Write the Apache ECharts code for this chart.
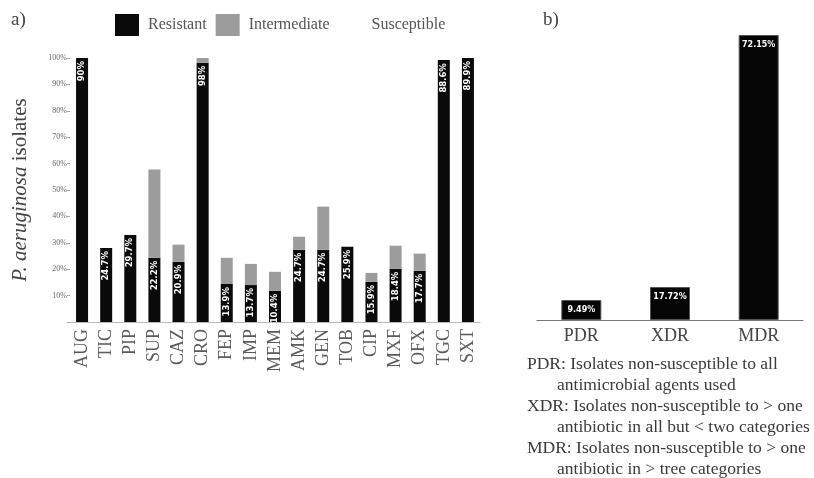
<!DOCTYPE html>
<html><head><meta charset="utf-8">
<script src="https://cdn.jsdelivr.net/npm/echarts@6/dist/echarts.min.js"></script>
<style>html,body{margin:0;padding:0;background:#fff}#c{width:814px;height:478px}</style>
</head><body><div id="c"></div>
<script>
// Panel a data
const drugs = ['AUG','TIC','PIP','SUP','CAZ','CRO','FEP','IMP','MEM','AMK','GEN','TOB','CIP','MXF','OFX','TGC','SXT'];
const resistant =    [100, 28, 33, 24.3, 22.8, 98.2, 14.4, 14, 11.8, 27.4, 27.4, 28.5, 15.2, 20.2, 19.4, 99.2, 100];
const intermediate = [0, 0, 0, 33.5, 6.5, 1.8, 9.9, 8, 7.2, 4.9, 16.3, 0, 3.4, 8.7, 6.5, 0, 0];
const resistantLabels = ['90%','24.7%','29.7%','22.2%','20.9%','98%','13.9%','13.7%','10.4%','24.7%','24.7%','25.9%','15.9%','18.4%','17.7%','88.6%','89.9%'];
const yTicks = [0,10,20,30,40,50,60,70,80,90,100];
// Panel b data
const classes = ['PDR','XDR','MDR'];
const classHeights = [5.06, 8.35, 72.15];
const classLabels = ['9.49%','17.72%','72.15%'];
const notes = [
  ['PDR: Isolates non-susceptible to all', 0],
  ['antimicrobial agents used', 1],
  ['XDR: Isolates non-susceptible to > one', 0],
  ['antibiotic in all but < two categories', 1],
  ['MDR: Isolates non-susceptible to > one', 0],
  ['antibiotic in > tree categories', 1]
];

const serif = '"Liberation Serif", "DejaVu Serif", serif';
const chart = echarts.init(document.getElementById('c'), null, {renderer:'canvas'});
const textGraphics = [
  {type:'text', left:11, top:11, style:{text:'a)', font:'19px ' + serif, fill:'#444'}},
  {type:'text', left:543, top:11, style:{text:'b)', font:'19px ' + serif, fill:'#444'}}
];
notes.forEach((n, i) => {
  textGraphics.push({type:'text', left: n[1] ? 557 : 527, top: 355 + i*21,
    style:{text:n[0], font:'17.5px ' + serif, fill:'#3a3a3a'}});
});

chart.setOption({
  animation:false,
  backgroundColor:'#fff',
  legend:{
    left:115, top:14, padding:0, itemWidth:24, itemHeight:22, itemGap:9,
    icon:'rect',
    textStyle:{fontFamily:serif, fontSize:16, color:'#555', padding:[0,0,0,4]},
    data:['Resistant','Intermediate','Susceptible']
  },
  grid:[
    {left:70, right:334, top:58, bottom:156},
    {left:537, right:11, top:35, bottom:158}
  ],
  xAxis:[
    {type:'category', gridIndex:0, data:drugs,
     axisLine:{lineStyle:{color:'#bbb'}}, axisTick:{show:false},
     axisLabel:{rotate:90, fontFamily:serif, fontSize:18, color:'#5a5a5a', margin:7}},
    {type:'category', gridIndex:1, data:classes,
     axisLine:{lineStyle:{color:'#777'}}, axisTick:{show:false},
     axisLabel:{fontFamily:serif, fontSize:18, color:'#444', margin:7}}
  ],
  yAxis:[
    {type:'value', gridIndex:0, min:0, max:100, interval:10,
     name:'{i|P. aeruginosa} isolates', nameLocation:'middle', nameGap:39,
     nameTextStyle:{fontFamily:serif, fontSize:21, color:'#444',
       rich:{i:{fontStyle:'italic', fontFamily:serif, fontSize:21, color:'#444'}}},
     axisLine:{show:false}, axisTick:{show:true, length:3, lineStyle:{color:'#aaa'}},
     splitLine:{show:false},
     axisLabel:{fontFamily:serif, fontSize:8, color:'#666', margin:3,
       formatter: v => v === yTicks[0] ? '' : v + '%'}},
    {type:'value', gridIndex:1, min:0, max:72.15, show:false}
  ],
  series:[
    {name:'Resistant', type:'bar', stack:'a', xAxisIndex:0, yAxisIndex:0, data:resistant,
     barWidth:12, itemStyle:{color:'#0a0a0a'},
     label:{show:true, position:'insideTop', rotate:90, align:'right', verticalAlign:'middle',
       distance:3, color:'#fff', fontSize:8.5, fontWeight:'bold', fontFamily:'"DejaVu Sans", sans-serif',
       formatter: p => resistantLabels[p.dataIndex]}},
    {name:'Intermediate', type:'bar', stack:'a', xAxisIndex:0, yAxisIndex:0, data:intermediate,
     barWidth:12, itemStyle:{color:'#9c9c9c'}},
    {name:'Susceptible', type:'bar', stack:'a', xAxisIndex:0, yAxisIndex:0, data:[],
     barWidth:12, itemStyle:{color:'#ffffff'}},
    {name:'classes', type:'bar', xAxisIndex:1, yAxisIndex:1, data:classHeights,
     barWidth:40, itemStyle:{color:'#050505', borderColor:'#555', borderWidth:1},
     label:{show:true, position:'insideTop', distance:6, color:'#fff', fontSize:8, fontWeight:'bold',
       fontFamily:'"DejaVu Sans", sans-serif', formatter: p => classLabels[p.dataIndex]}}
  ],
  graphic: textGraphics
});
</script></body></html>
